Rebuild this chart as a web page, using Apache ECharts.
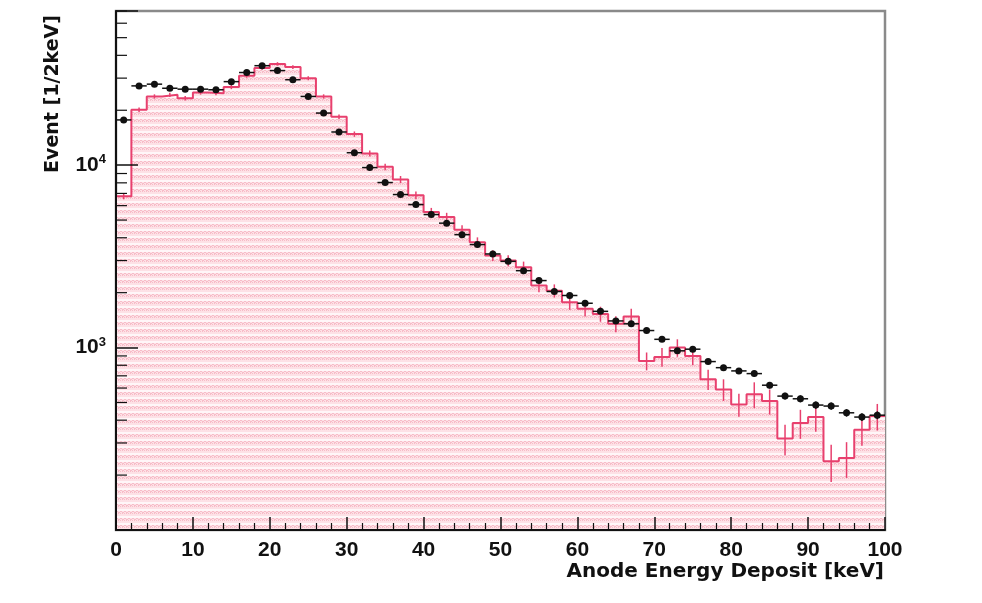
<!DOCTYPE html>
<html><head><meta charset="utf-8">
<script src="https://cdn.jsdelivr.net/npm/echarts@6/dist/echarts.min.js"></script>
<style>html,body{margin:0;padding:0;background:#fff}#c{width:982px;height:603px}</style>
</head><body><div id="c"></div>
<script>
// bin centres (keV), bin width 2 keV
const binCenters = [1,3,5,7,9,11,13,15,17,19,21,23,25,27,29,31,33,35,37,39,41,43,45,47,49,51,53,55,57,59,61,63,65,67,69,71,73,75,77,79,81,83,85,87,89,91,93,95,97,99];
const binWidth = 2;
// measured data (black points)
const dataCounts = [17700,27200,27800,26400,26100,26100,25900,28700,32200,35100,33000,29400,23800,19300,15200,11700,9700,8030,6900,6080,5360,4810,4160,3670,3260,2970,2640,2330,2030,1930,1750,1580,1400,1350,1240,1110,960,980,838,776,745,720,622,542,524,484,478,439,416,426];
const dataErrors = [133,165,167,162,162,162,161,169,179,187,182,171,154,139,123,108,98,90,83,78,73,69,64,61,57,54,51,48,45,44,42,40,37,37,35,33,31,31,29,28,27,27,25,23,23,22,22,21,20,21];
// simulation (red histogram)
const mcCounts = [6750,20100,23800,24300,23300,25000,24800,26800,30900,34100,35900,34500,30000,23800,18400,14800,11600,9790,8340,6840,5530,5190,4430,3780,3200,3000,2760,2190,2050,1770,1630,1530,1350,1480,845,889,1000,900,670,590,488,555,509,317,386,416,238,248,355,421];
const mcErrors = [250,600,650,650,650,650,650,700,750,800,800,800,750,650,550,500,450,400,380,330,300,290,260,240,220,210,200,180,170,160,150,145,135,155,95,105,110,100,85,80,70,90,80,60,70,70,55,55,65,70];
// axis ticks and titles
const yMinorTicks = [200,300,400,500,600,700,800,900,2000,3000,4000,5000,6000,7000,8000,9000,20000,30000,40000,50000,60000,70000];
const yLabelled = {1000:'3', 10000:'4'};
const xTitle = 'Anode Energy Deposit [keV]';
const yTitle = 'Event [1/2keV]';

const lineColor = '#e8406e';
const pc = document.createElement('canvas');
pc.width = 4; pc.height = 7;
const g = pc.getContext('2d');
g.fillStyle = '#fde1e6'; g.fillRect(0,0,4,7);
g.fillStyle = '#f7bcc8'; g.fillRect(0,0,2,1); g.fillRect(2,1,2,1); g.fillRect(0,2,1,1); g.fillRect(2,2,1,1);
g.fillStyle = '#fff6f8'; g.fillRect(0,5,4,2);

const stepData = binCenters.map((c,i)=>[c-binWidth/2, mcCounts[i]]);
stepData.push([binCenters[binCenters.length-1]+binWidth/2, mcCounts[mcCounts.length-1]]);

const fontT = 'DejaVu Sans';
const fontL = 'Liberation Sans';

const chart = echarts.init(document.getElementById('c'));
chart.setOption({
  animation:false,
  backgroundColor:'#fff',
  grid:{left:116, right:97, top:11, bottom:73, outerBoundsMode:'none', containLabel:false, show:true, borderColor:'#8a8a8a', borderWidth:2.5, backgroundColor:'transparent'},
  graphic:[
    {type:'text', x:884, y:562, z:20, style:{text:xTitle, align:'right', verticalAlign:'top', fill:'#111', font:'bold 20px "DejaVu Sans"'}},
    {type:'text', x:63, y:15, rotation:Math.PI/2, z:20, style:{text:yTitle, align:'right', verticalAlign:'bottom', fill:'#111', font:'bold 19px "DejaVu Sans"'}}
  ],
  xAxis:{
    type:'value', min:0, max:100, interval:10, z:10,
    axisLine:{lineStyle:{color:'#111', width:2}},
    axisTick:{inside:true, length:13, lineStyle:{color:'#111', width:1.5}},
    minorTick:{show:true, splitNumber:5, length:7, lineStyle:{color:'#111', width:1.2}},
    splitLine:{show:false},
    axisLabel:{fontFamily:fontL, fontWeight:'bold', fontSize:21, color:'#111', margin:10}
  },
  yAxis:{
    type:'log', logBase:10, min:100, max:70000, z:10,
    axisLine:{lineStyle:{color:'#111', width:2}},
    axisTick:{inside:true, length:22, lineStyle:{color:'#111', width:1.5}},
    splitLine:{show:false},
    axisLabel:{margin:10, showMinLabel:false,
      formatter:v=>{const k = Math.round(v); return yLabelled[k] ? '{b|10}{s|'+yLabelled[k]+'}' : '';},
      rich:{b:{fontFamily:fontL, fontWeight:'bold', fontSize:21, color:'#111', lineHeight:24},
            s:{fontFamily:fontL, fontWeight:'bold', fontSize:13, color:'#111', verticalAlign:'top', lineHeight:13}}}
  },
  series:[
    {type:'line', step:'end', data:stepData, symbol:'none', z:2,
     lineStyle:{color:lineColor, width:2},
     areaStyle:{origin:'start', color:{image:pc, repeat:'repeat'}, opacity:1}},
    {type:'custom', z:3, data:binCenters.map((c,i)=>[c, mcCounts[i], mcErrors[i]]),
     encode:{x:0, y:1},
     renderItem:(p, api)=>{
       const x = api.value(0), v = api.value(1), e = api.value(2);
       const t = api.coord([x, v+e]), b = api.coord([x, v-e]);
       return {type:'line', shape:{x1:t[0], y1:t[1], x2:b[0], y2:b[1]}, style:{stroke:lineColor, lineWidth:1.5}};
     }},
    {type:'custom', z:4, data:binCenters.map((c,i)=>[c, dataCounts[i], dataErrors[i]]),
     encode:{x:0, y:1},
     renderItem:(p, api)=>{
       const x = api.value(0), v = api.value(1), e = api.value(2);
       const c = api.coord([x, v]);
       const l = api.coord([x-binWidth/2, v]), r = api.coord([x+binWidth/2, v]);
       const t = api.coord([x, v+e]), b = api.coord([x, v-e]);
       const st = {stroke:'#111', lineWidth:1.5};
       return {type:'group', children:[
         {type:'line', shape:{x1:l[0], y1:l[1], x2:r[0], y2:r[1]}, style:st},
         {type:'line', shape:{x1:t[0], y1:t[1], x2:b[0], y2:b[1]}, style:st},
         {type:'circle', shape:{cx:c[0], cy:c[1], r:3.5}, style:{fill:'#111'}}
       ]};
     }},
    {type:'custom', z:12, silent:true, data:yMinorTicks.map(v=>[0, v]),
     encode:{x:0, y:1},
     renderItem:(p, api)=>{
       const q = api.coord([api.value(0), api.value(1)]);
       return {type:'line', shape:{x1:q[0], y1:q[1], x2:q[0]+11, y2:q[1]}, style:{stroke:'#111', lineWidth:1.2}};
     }}
  ]
});
</script></body></html>
